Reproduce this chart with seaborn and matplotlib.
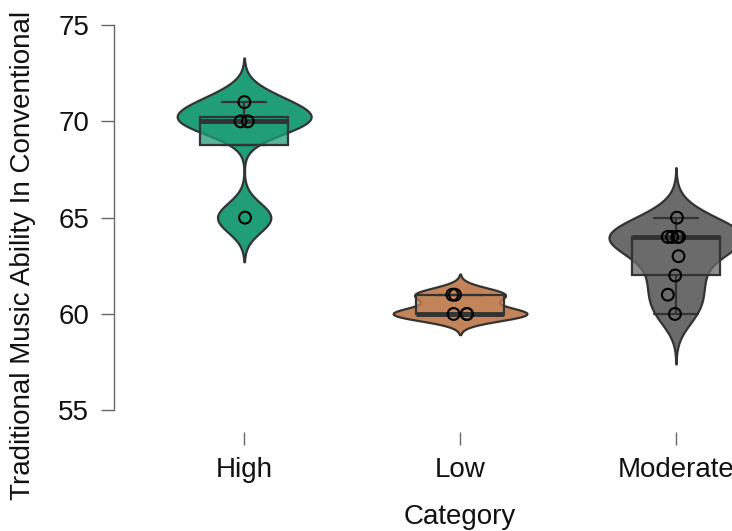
import numpy as np
import pandas as pd
import seaborn as sns
import matplotlib.pyplot as plt
from matplotlib.colors import to_rgba

# ----- data -----
categories = ['High', 'Low', 'Moderate']
high_scores = [65, 70, 70, 71]
low_scores = [60, 60, 60, 61, 61]
moderate_scores = [60, 61, 62, 63, 64, 64, 64, 64, 65]
group_colors = ['#1f9e77', '#c4845a', '#6b6b6b']
y_ticks = [55, 60, 65, 70, 75]

df = pd.DataFrame({
    'Category': ['High'] * len(high_scores) + ['Low'] * len(low_scores) + ['Moderate'] * len(moderate_scores),
    'Score': high_scores + low_scores + moderate_scores,
})

sns.set_style('white')
plt.rcParams['font.family'] = ['Liberation Sans', 'DejaVu Sans']
np.random.seed(3)


def nrd0_factor(v):
    # R's default bandwidth, expressed as a factor of the sd (what gaussian_kde expects)
    v = np.asarray(v, float)
    sd = v.std(ddof=1)
    q1, q3 = np.percentile(v, [25, 75])
    h = 0.9 * min(sd, (q3 - q1) / 1.34) * len(v) ** -0.2
    return h / sd


fig = plt.figure(figsize=(7.32, 5.31), dpi=100)
ax = fig.add_axes([0.156, 0.186, 0.945, 0.814])

# ----- violins, one call per group so each gets its own bandwidth -----
for cat, color in zip(categories, group_colors):
    sub = df[df['Category'] == cat]
    sns.violinplot(data=sub, x='Category', y='Score', order=categories, color=color, saturation=1,
                   bw_method=nrd0_factor(sub['Score']), cut=3, inner=None, density_norm='width',
                   width=0.62, linewidth=1.6, linecolor='#333333', ax=ax)

# ----- boxes -----
sns.boxplot(data=df, x='Category', y='Score', order=categories, hue='Category', palette=group_colors,
            saturation=1, legend=False, width=0.41, showfliers=False, linewidth=1.6,
            linecolor='#333333', medianprops=dict(linewidth=3.5), ax=ax)
for p in ax.patches:
    p.set_facecolor(to_rgba(p.get_facecolor(), 0.75))

# ----- jittered points -----
n_before = len(ax.collections)
sns.stripplot(data=df, x='Category', y='Score', order=categories, color='black', jitter=0.04,
              size=8.5, ax=ax)
for c in ax.collections[n_before:]:
    c.set_facecolor('none')
    c.set_edgecolor('black')
    c.set_linewidth(1.5)

# ----- axes styling -----
ax.set_xlim(-0.602, 2.602)
ax.set_ylim(53.86, 76.3)
ax.set_yticks(y_ticks)
sns.despine(ax=ax, bottom=True)
ax.spines['left'].set_bounds(55, 75)
ax.spines['left'].set_color('#666666')
ax.spines['left'].set_linewidth(1)
ax.tick_params(axis='both', bottom=True, left=True, length=9.4, width=1, color='#666666',
               labelsize=20, pad=8.6, labelcolor='#111111')

ax.set_xlabel('Category', fontsize=20, color='#111111')
ax.xaxis.set_label_coords(0.5, -0.197)
ax.xaxis.label.set_va('center')
ax.set_ylabel('Traditional Music Ability In Conventional', fontsize=20, color='#111111')
ax.yaxis.set_label_coords(-0.1315, 0.41)
ax.yaxis.label.set_va('center')

fig.savefig('out.png', dpi=100)
